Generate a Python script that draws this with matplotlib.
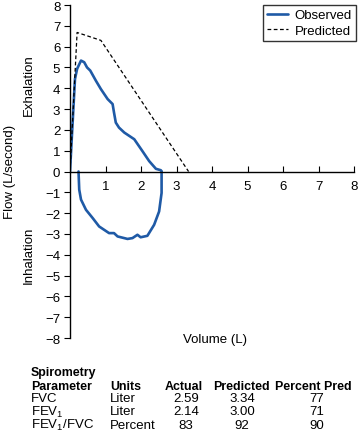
import matplotlib
matplotlib.use("Agg")
import matplotlib.pyplot as plt

plt.rcParams['font.family'] = ['Liberation Sans', 'DejaVu Sans']
plt.rcParams['mathtext.fontset'] = 'custom'
plt.rcParams['mathtext.rm'] = 'Liberation Sans'
plt.rcParams['mathtext.it'] = 'Liberation Sans'
plt.rcParams['mathtext.default'] = 'regular'
plt.rcParams['axes.unicode_minus'] = True

# Observed flow-volume loop (expiration then inspiration)
obs_exp_vol = [0.0, 0.14, 0.20, 0.31, 0.40, 0.48, 0.57, 0.73, 0.87, 1.06, 1.20, 1.24,
               1.29, 1.38, 1.53, 1.81, 2.04, 2.23, 2.42, 2.56, 2.58]
obs_exp_flow = [0.0, 4.44, 4.93, 5.33, 5.25, 5.00, 4.85, 4.36, 3.96, 3.48, 3.24, 2.83,
                2.35, 2.11, 1.87, 1.55, 0.98, 0.50, 0.13, 0.06, 0.0]
obs_insp_vol = [0.24, 0.26, 0.31, 0.45, 0.64, 0.82, 1.10, 1.24, 1.34, 1.62, 1.76,
                1.90, 1.99, 2.18, 2.37, 2.51, 2.58, 2.58]
obs_insp_flow = [0.0, -0.87, -1.35, -1.84, -2.24, -2.64, -2.96, -2.96, -3.12, -3.24,
                 -3.20, -3.04, -3.16, -3.09, -2.56, -1.92, -1.03, 0.0]

pred_vol = [0.0, 0.20, 0.87, 3.34]
pred_flow = [0.0, 6.68, 6.30, 0.0]

x_ticks = [1, 2, 3, 4, 5, 6, 7, 8]
y_ticks = list(range(-8, 9))

table_header1 = ["Spirometry"]
table_header2 = ["Parameter", "Units", "Actual", "Predicted", "Percent Pred"]
table_params = ["FVC", "FEV$_1$", "FEV$_1$/FVC"]
table_units = ["Liter", "Liter", "Percent"]
table_actual = ["2.59", "2.14", "83"]
table_pred = ["3.34", "3.00", "92"]
table_pct = ["77", "71", "90"]

W, H = 358, 435
fig = plt.figure(figsize=(W / 100, H / 100), dpi=100)
ax = fig.add_axes([70 / W, 1 - 339 / H, (354 - 70) / W, (339 - 6) / H])

blue = '#1f5aa6'
ax.plot(obs_exp_vol, obs_exp_flow, color=blue, lw=1.9, label='Observed',
        solid_joinstyle='round', solid_capstyle='round')
ax.plot(obs_insp_vol, obs_insp_flow, color=blue, lw=1.9,
        solid_joinstyle='round', solid_capstyle='round')
ax.plot(pred_vol, pred_flow, color='black', lw=0.9, ls=(0, (3, 2)), label='Predicted')

ax.set_xlim(0, 8)
ax.set_ylim(-8, 8)
ax.spines['top'].set_visible(False)
ax.spines['right'].set_visible(False)
ax.spines['bottom'].set_position(('data', 0))
ax.spines['bottom'].set_linewidth(1.0)
ax.spines['left'].set_linewidth(1.0)
ax.set_xticks(x_ticks)
ax.set_yticks(y_ticks)
ax.tick_params(axis='x', direction='in', length=4, width=0.8, labelsize=9.5, pad=6)
ax.tick_params(axis='y', direction='out', length=4, width=0.8, labelsize=9.5, pad=3)

leg = ax.legend(loc='upper right', bbox_to_anchor=(1.007, 1.0), frameon=True, fancybox=False,
                edgecolor='black', fontsize=9.5, handlelength=1.6, borderpad=0.3,
                labelspacing=0.25, handletextpad=0.5, borderaxespad=0.0)
leg.get_frame().set_linewidth(1.0)

fs = 9.5
fig.text(10 / W, 1 - 172 / H, "Flow (L/second)", rotation=90, ha='center', va='center', fontsize=fs)
fig.text(29 / W, 1 - 85 / H, "Exhalation", rotation=90, ha='center', va='center', fontsize=fs)
fig.text(29 / W, 1 - 255 / H, "Inhalation", rotation=90, ha='center', va='center', fontsize=fs)
fig.text(215 / W, 1 - 340 / H, "Volume (L)", ha='center', va='center', fontsize=fs)

# table
tfs = 9.5
hfs = 8.9
fig.text(31 / W, 1 - 376 / H, table_header1[0], ha='left', va='baseline', fontsize=hfs, weight='bold')
hx = [(31, 'left'), (110, 'left'), (184, 'center'), (241, 'center'), (313, 'center')]
for (x, ha), t in zip(hx, table_header2):
    fig.text(x / W, 1 - 390 / H, t, ha=ha, va='baseline', fontsize=hfs, weight='bold')
rows_y = [402.5, 415.5, 429]
for i, y in enumerate(rows_y):
    fig.text(31 / W, 1 - y / H, table_params[i], ha='left', va='baseline', fontsize=tfs)
    fig.text(110 / W, 1 - y / H, table_units[i], ha='left', va='baseline', fontsize=tfs)
    fig.text(186 / W, 1 - y / H, table_actual[i], ha='center', va='baseline', fontsize=tfs)
    fig.text(242 / W, 1 - y / H, table_pred[i], ha='center', va='baseline', fontsize=tfs)
    fig.text(317 / W, 1 - y / H, table_pct[i], ha='center', va='baseline', fontsize=tfs)

fig.savefig("out.png", dpi=100)
